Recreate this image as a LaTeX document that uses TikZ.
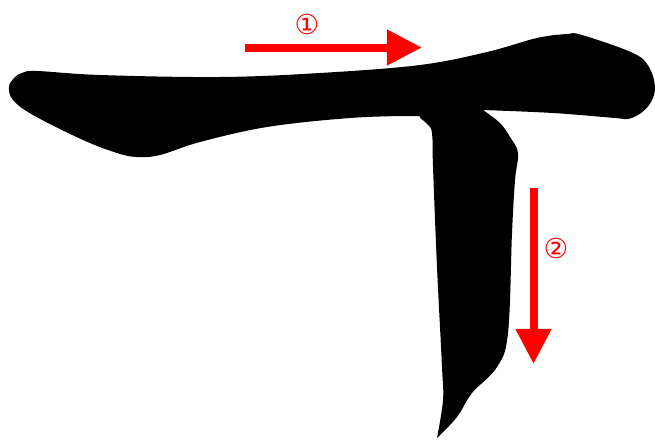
\documentclass[tikz,border=0pt]{standalone}
\usepackage{fontspec}
\newfontfamily\symfont{DejaVu Sans}
\usetikzlibrary{arrows.meta}
\begin{document}
\begin{tikzpicture}[x=0.03cm, y=-0.03cm,
    order/.style={-{Triangle[length=30, width=29]}, line width=8*0.03cm, red},
    num/.style={font=\symfont\fontsize{23.5}{24}\selectfont, text=red, inner sep=0pt}
  ]
    \useasboundingbox (0,0) rectangle (655,439);
    % Heng stroke, then the hanging vertical
    \fill[black] plot[smooth, tension=0.6] coordinates {
        (420,118) (413,116) (350,118) (267,127) (200,142) (160,155) (137,157)
        (117,153) (83,140) (33,115) (13,100) (9,87) (14,78) (22,73) (37,71)
        (100,75) (220,77) (320,73) (420,65) (487,52) (537,38) (567,34) (582,35)
        (633,53) (649,67) (655,87) (651,102) (641,113) (628,119) (615,118) (553,113) (483,110)}
      -- plot[smooth, tension=0.6] coordinates {
        (483,110) (500,123) (510,137) (518,153) (515,180) (512,233) (508,333)
        (497,367) (472,393) (457,417) (437,438)}
      -- plot[smooth, tension=0.6] coordinates {
        (437,438) (443,400) (442,367) (437,267) (433,167) (432,133) (427,124) (420,118)}
      -- cycle;
    % Stroke 1
    \coordinate (s1a) at (245,47.5);
    \coordinate (s1b) at (422,47.5);
    \draw[order] (s1a) -- (s1b);
    \node[num] (n1) at (307,24) {①};
    % Stroke 2
    \coordinate (s2a) at (533.5,188);
    \coordinate (s2b) at (533.5,364);
    \draw[order] (s2a) -- (s2b);
    \node[num] (n2) at (556,248) {②};
  \end{tikzpicture}
\end{document}
